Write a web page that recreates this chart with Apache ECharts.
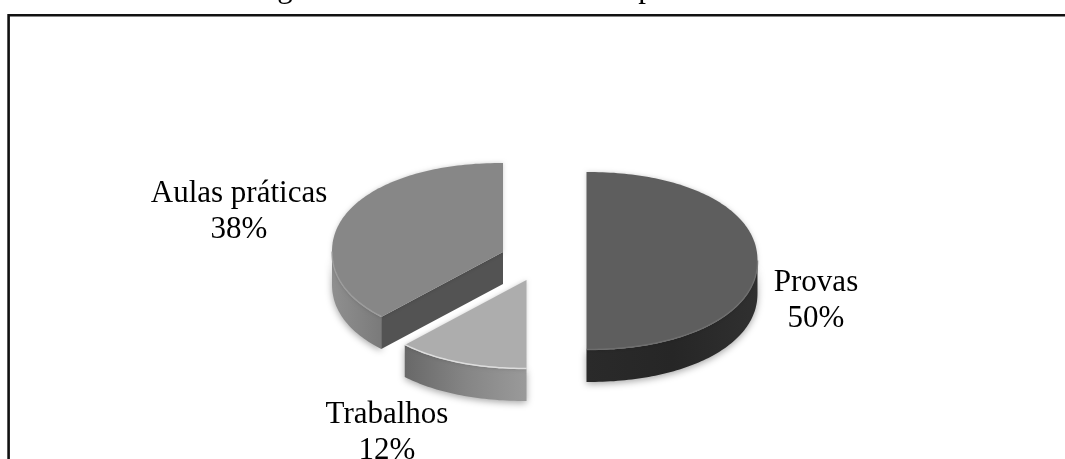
<!DOCTYPE html>
<html><head><meta charset="utf-8">
<style>html,body{margin:0;padding:0;background:#fff}#c{width:1065px;height:459px;filter:blur(0.5px)}</style>
<script src="https://cdn.jsdelivr.net/npm/echarts@6/dist/echarts.min.js"></script>
</head><body><div id="c"></div>
<script>
const categories = ['Provas', 'Trabalhos', 'Aulas práticas'];
const values = [50, 12, 38];
const centers = [[586.5, 261], [526.5, 280], [503, 252]];
const labelPos = [[816, 300.5], [387, 433], [239, 212]];
const topColors = ['#5e5e5e', '#adadad', '#878787'];
const sideStops = [
  ['#303030', '#262626', '#2a2a2a'],
  ['#9a9a9a', '#858585', '#686868'],
  ['#7a7a7a', '#858585', '#8f8f8f']
];
const rimColors = ['#707070', '#e8e8e8', '#a0a0a0'];
const clippedCaptionLetters = ['g', 'p'];
const clippedCaptionX = [285, 646];
const RX = 171, RY = 89, DEPTH = 32, POWER = 2 / 2.12, WARP = 0.018;
const FONT = '31px "Liberation Serif", "Times New Roman", serif';

function pt(c, a, dy) {
  const w = a + WARP * Math.sin(2 * a);
  const s = Math.sin(w), k = Math.cos(w);
  return [c[0] + RX * Math.sign(s) * Math.pow(Math.abs(s), POWER),
          c[1] - RY * Math.sign(k) * Math.pow(Math.abs(k), POWER) + (dy || 0)];
}
function arc(c, a0, a1, dy) {
  const n = Math.max(2, Math.ceil(Math.abs(a1 - a0) / 0.02)), out = [];
  for (let i = 0; i <= n; i++) out.push(pt(c, a0 + (a1 - a0) * i / n, dy));
  return out;
}
const total = values.reduce((s, v) => s + v, 0);
const starts = []; values.reduce((s, v, i) => (starts[i] = s, s + v), 0);
const TAU = Math.PI * 2;

function renderItem(params, api) {
  const i = api.value(2);
  const c = centers[i];
  const a0 = api.value(3) / total * TAU, a1 = (api.value(3) + api.value(1)) / total * TAU;
  const kids = [];
  const w0 = Math.max(a0, Math.PI / 2), w1 = Math.min(a1, Math.PI * 1.5);
  if (w1 > w0) {
    const t = arc(c, w0, w1, 0), b = arc(c, w1, w0, DEPTH);
    kids.push({ type: 'polygon', shape: { points: t.concat(b) }, style: {
      fill: { type: 'linear', x: 1, y: 0, x2: 0, y2: 0, colorStops: [
        { offset: 0, color: sideStops[i][0] }, { offset: .5, color: sideStops[i][1] }, { offset: 1, color: sideStops[i][2] }] },
      shadowBlur: 7, shadowColor: 'rgba(0,0,0,.35)', shadowOffsetY: 2 } });
  }
  if (a0 > Math.PI && a0 < Math.PI * 1.5 && i === 2) {
    const e = pt(c, a0);
    kids.push({ type: 'polygon', shape: { points: [c, e, [e[0], e[1] + DEPTH], [c[0], c[1] + DEPTH]] },
      style: { fill: '#535353' } });
  }
  kids.push({ type: 'polygon', shape: { points: [c].concat(arc(c, a0, a1, 0)) },
    style: { fill: topColors[i], shadowBlur: 4, shadowColor: 'rgba(0,0,0,.18)' } });
  kids.push({ type: 'polyline', shape: { points: arc(c, Math.max(a0, w0), Math.min(a1, w1), -0.5) },
    style: { stroke: rimColors[i], lineWidth: 1.5, fill: 'none', opacity: .8 } });
  kids.push({ type: 'text', style: {
    text: categories[i] + '\n' + api.value(1) + '%', x: labelPos[i][0], y: labelPos[i][1],
    font: FONT, lineHeight: 36, fill: '#000', align: 'center', verticalAlign: 'middle' }, z2: 10 });
  return { type: 'group', children: kids };
}
const drawOrder = [2, 1, 0];
const chart = echarts.init(document.getElementById('c'), null, { renderer: 'canvas' });
chart.setOption({
  animation: false,
  backgroundColor: '#fff',
  graphic: [
    { type: 'polyline', shape: { points: [[1065, 15.2], [8.6, 15.2], [8.6, 459]] }, style: { stroke: '#111', lineWidth: 2.6, fill: 'none' } },
    ...clippedCaptionLetters.map((t, k) => ({ type: 'text', style: {
      text: t, x: clippedCaptionX[k], y: -11, font: FONT, fill: '#000', align: 'center', verticalAlign: 'middle' } }))
  ],
  series: [{
    type: 'custom', coordinateSystem: 'none', renderItem, silent: true,
    data: drawOrder.map(i => [categories[i], values[i], i, starts[i]])
  }]
});
</script></body></html>
